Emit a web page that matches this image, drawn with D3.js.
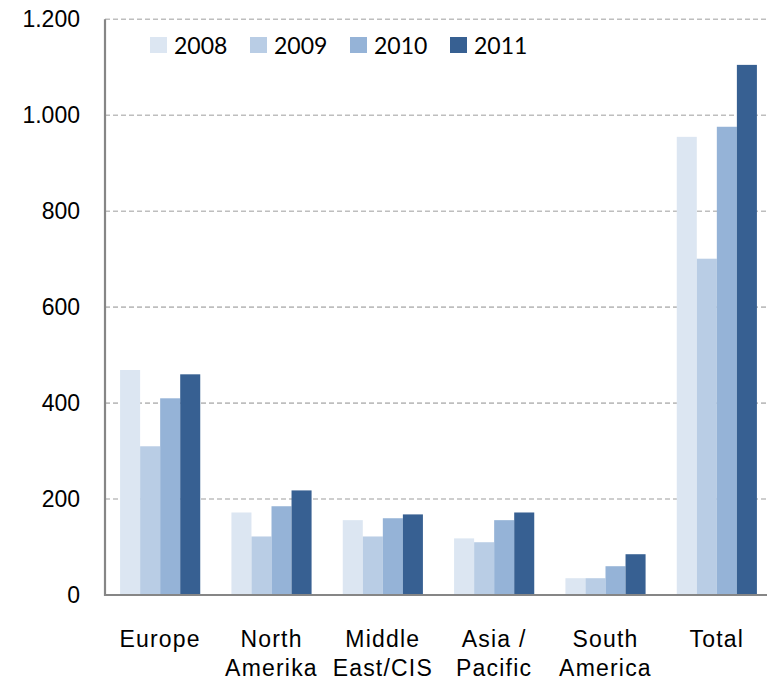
<!DOCTYPE html>
<html>
<head>
<meta charset="utf-8">
<script src="https://cdn.jsdelivr.net/npm/d3@7"></script>
<style>
  html, body { margin: 0; padding: 0; background: #fff; }
  svg { display: block; }
</style>
</head>
<body>
<svg id="chart" width="767" height="682"></svg>
<script>
const categories = ["Europe", "North Amerika", "Middle East/CIS", "Asia / Pacific", "South America", "Total"];
const categoryLines = [["Europe"], ["North", "Amerika"], ["Middle", "East/CIS"], ["Asia /", "Pacific"], ["South", "America"], ["Total"]];
const years = ["2008", "2009", "2010", "2011"];
const values2008 = [469, 172, 156, 118, 35, 955];
const values2009 = [310, 122, 122, 110, 35, 701];
const values2010 = [410, 185, 160, 156, 60, 976];
const values2011 = [460, 218, 168, 172, 85, 1105];
const yTicks = [0, 200, 400, 600, 800, 1000, 1200];
const yTickLabels = ["0", "200", "400", "600", "800", "1.000", "1.200"];
const colors = ["#DCE6F2", "#B9CDE5", "#95B3D7", "#376092"];

const series = [values2008, values2009, values2010, values2011];

const svg = d3.select("#chart");
const axisX = 105, plotRight = 767, yBase = 595, yTop = 19.3;

const y = d3.scaleLinear().domain([0, 1200]).range([yBase, yTop]);
const x0 = d3.scaleBand().domain(categories).range([104.5, 772.5]).paddingInner(0.28).paddingOuter(0.14);
const x1 = d3.scaleBand().domain(years).range([0, x0.bandwidth()]);

// gridlines
svg.append("g").selectAll("line").data(yTicks.filter(d => d > 0)).join("line")
  .attr("x1", axisX).attr("x2", plotRight)
  .attr("y1", d => y(d)).attr("y2", d => y(d))
  .attr("stroke", "#BEBEBE").attr("stroke-width", 1.6)
  .attr("stroke-dasharray", "5,3");

// bars
const groups = svg.append("g").selectAll("g").data(categories).join("g")
  .attr("transform", c => `translate(${x0(c)},0)`);
groups.selectAll("rect").data((c, i) => years.map((yr, j) => ({ yr, v: series[j][i], j })))
  .join("rect")
  .attr("x", d => x1(d.yr))
  .attr("width", x1.bandwidth())
  .attr("y", d => y(d.v))
  .attr("height", d => yBase - y(d.v))
  .attr("fill", d => colors[d.j]);

// axes lines
svg.append("line").attr("x1", axisX).attr("x2", axisX).attr("y1", yTop).attr("y2", yBase + 1)
  .attr("stroke", "#868686").attr("stroke-width", 2.2);
svg.append("line").attr("x1", axisX - 1).attr("x2", plotRight).attr("y1", yBase).attr("y2", yBase)
  .attr("stroke", "#868686").attr("stroke-width", 2.2);

// y tick labels
svg.append("g").selectAll("text").data(yTicks).join("text")
  .attr("x", 80).attr("y", d => y(d) + 8)
  .attr("text-anchor", "end")
  .attr("font-family", "'Liberation Sans', Arial, sans-serif")
  .attr("font-size", 23)
  .attr("fill", "#000")
  .text((d, i) => yTickLabels[i]);

// x labels
const xl = svg.append("g").selectAll("text").data(categories).join("text")
  .attr("text-anchor", "middle")
  .attr("font-family", "'Liberation Sans', Arial, sans-serif")
  .attr("font-size", 23)
  .attr("letter-spacing", 1.2)
  .attr("fill", "#000");
xl.each(function (c, i) {
  const t = d3.select(this);
  categoryLines[i].forEach((line, k) => {
    t.append("tspan").attr("x", x0(c) + x0.bandwidth() / 2).attr("y", 647 + k * 28.5).text(line);
  });
});

// legend
const leg = svg.append("g").selectAll("g").data(years).join("g")
  .attr("transform", (d, i) => `translate(${150 + i * 100},37)`);
leg.append("rect").attr("width", 17).attr("height", 16).attr("fill", (d, i) => colors[i]);
leg.append("text").attr("x", 24).attr("y", 17)
  .attr("font-family", "Lato, 'Open Sans', sans-serif")
  .attr("font-size", 23)
  .attr("fill", "#000")
  .text(d => d);
</script>
</body>
</html>
